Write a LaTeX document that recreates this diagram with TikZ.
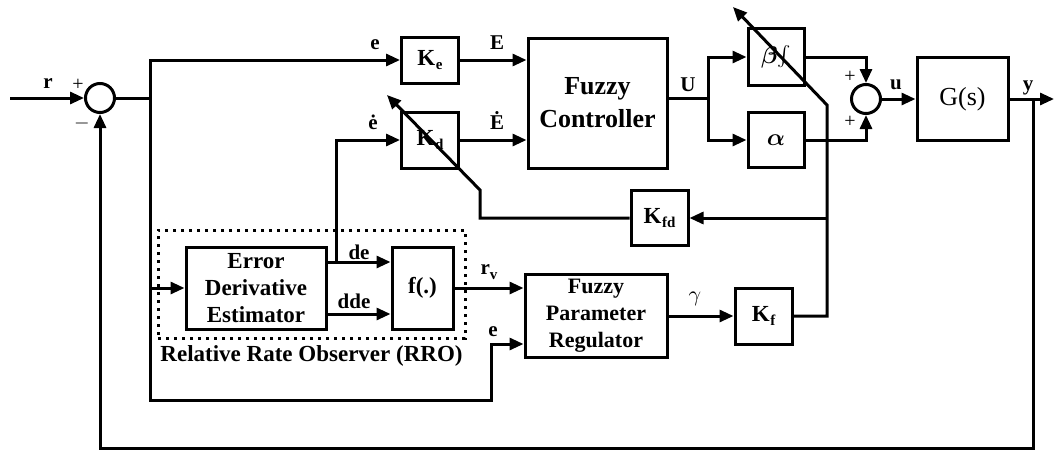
\documentclass[tikz,border=0pt]{standalone}
\usepackage{fontspec}
\setmainfont{Liberation Serif}
\usepackage{tikz}
\usetikzlibrary{arrows.meta, positioning, calc, fit}
\tikzstyle{block} = [rectangle, draw=black, line width=1.5pt, inner sep=0pt, align=center,
    font=\bfseries\fontsize{11.5}{13.5}\selectfont]
\tikzstyle{gain} = [block, minimum width=28.5pt, minimum height=28pt, font=\bfseries\fontsize{11.5}{12}\selectfont]
\tikzstyle{sum} = [circle, draw=black, line width=1.5pt, minimum size=14.5pt, inner sep=0pt]
\tikzstyle{lbl} = [inner sep=0pt, font=\bfseries\fontsize{10.5}{11}\selectfont]
\tikzstyle{sgn} = [inner sep=0pt, font=\fontsize{10}{10}\selectfont]
\tikzstyle{wire} = [line width=1.5pt]
\tikzstyle{arrow} = [line width=1.5pt, -{Triangle[length=7pt,width=6pt]}]
\tikzstyle{rrobox} = [draw=black, line width=1.5pt, dash pattern=on 1.5pt off 2.5pt, inner sep=0pt]
\newcommand{\gainsub}[1]{K\kern0.3pt\raisebox{-0.45ex}{\fontsize{7.5}{7.5}\selectfont #1}}

\begin{document}
\begin{tikzpicture}[x=0.5pt, y=-0.5pt]
  \useasboundingbox (0,0) rectangle (1056,450);

  % forward path
  \node (sum1) [sum] at (100,98) {};
  \node (ke)   [gain, minimum height=23pt] at (430,60) {\gainsub{e}};
  \node (kd)   [gain] at (430,140) {\gainsub{d}};
  \node (fc)   [block, minimum width=69.5pt, minimum height=65pt,
                font=\bfseries\fontsize{13}{16.5}\selectfont] at (597.5,103) {Fuzzy\\Controller};
  \node (bint) [block, minimum width=28pt, minimum height=28.5pt, font=\fontsize{12}{12}\selectfont\boldmath]
                at (776,57) {$\beta\!\int$};
  \node (alph) [block, minimum width=28pt, minimum height=27.5pt, font=\fontsize{12}{12}\selectfont\boldmath]
                at (776,140) {$\alpha$};
  \node (sum2) [sum] at (866,99) {};
  \node (gs)   [block, minimum width=45.5pt, minimum height=41.5pt, font=\fontsize{13}{13}\selectfont]
                at (962.5,99) {G(s)};

  % adaptation path
  \node (ede)  [block, minimum width=70pt, minimum height=41pt] at (256,288) {Error\\Derivative\\Estimator};
  \node (fdot) [block, minimum width=30.5pt, minimum height=41pt] at (422.5,288) {f(.)};
  \node (rro)  [rrobox, fit={(158,230) (465,338)}] {};
  \node (rrolbl) [below=3pt of rro, inner sep=0pt, font=\bfseries\fontsize{11.5}{12}\selectfont]
                {Relative Rate Observer (RRO)};
  \node (fpr)  [block, minimum width=71pt, minimum height=41.5pt,
                font=\bfseries\fontsize{11}{13.5}\selectfont] at (596,316) {Fuzzy\\Parameter\\Regulator};
  \node (kf)   [gain] at (763.5,316) {\gainsub{f}};
  \node (kfd)  [gain, minimum height=27.5pt] at (659.5,218) {\gainsub{fd}};

  \coordinate (rin)    at (10,98);
  \coordinate (esplit) at (150,98);
  \coordinate (usplit) at (708,98);
  \coordinate (ysplit) at (1033,99);
  \coordinate (yout)   at (1054,99);

  % labels
  \node (lr)   [lbl] at (48,84) {r};
  \node (lp1)  [sgn] at (78,85) {+};
  \node (lm1)  [sgn] at (82,123) {$-$};
  \node (le)   [lbl] at (375,45) {e};
  \node (ledot)[lbl] at (373,122) {\.{e}};
  \node (lE)   [lbl] at (497,43) {E};
  \node (lEdot)[lbl] at (497,120) {\.{E}};
  \node (lU)   [lbl] at (688,85) {U};
  \node (lp2)  [sgn] at (850,77) {+};
  \node (lp3)  [sgn] at (850,122) {+};
  \node (lu)   [lbl] at (896,85) {u};
  \node (ly)   [lbl] at (1028,88) {y};
  \node (lde)  [lbl] at (359,252) {de};
  \node (ldde) [lbl] at (354,301) {dde};
  \node (lrv)  [lbl] at (489,272) {r\raisebox{-0.5ex}{\fontsize{7.5}{7.5}\selectfont v}};
  \node (le2)  [lbl] at (493,332) {e};
  \node (lg)   [sgn, font=\fontsize{11}{11}\selectfont] at (695,299) {$\gamma$};

  % main loop
  \draw[arrow] (rin) -- (sum1.west);
  \draw[wire]  (sum1.east) -- (esplit);
  \draw[arrow] (esplit) |- (ke.west);
  \draw[arrow] (esplit) |- (ede.west);
  \draw[arrow] (150,288) -- (150,400) -| (491,344) -- ($(fpr.west)+(0,28)$);
  \draw[arrow] (ke.east) -- (ke.east -| fc.west);
  \draw[arrow] (kd.east) -- (kd.east -| fc.west);
  \draw[wire]  (fc.east |- usplit) -- (usplit);
  \draw[arrow] (usplit) |- (bint.west);
  \draw[arrow] (usplit) |- (alph.west);
  \draw[arrow] (bint.east) -| (sum2.north);
  \draw[arrow] (alph.east) -| (sum2.south);
  \draw[arrow] (sum2.east) -- (gs.west);
  \draw[arrow] (gs.east) -- (yout);
  \draw[arrow] (ysplit) -- (1033,448) -| (sum1.south);

  % observer and regulator
  \draw[arrow] ($(ede.east)+(0,-26)$) -- ($(fdot.west)+(0,-26)$);
  \draw[arrow] ($(ede.east)+(0,26)$) -- ($(fdot.west)+(0,26)$);
  \draw[arrow] (336,262) |- (kd.west);
  \draw[arrow] (fdot.east) -- (fdot.east -| fpr.west);
  \draw[arrow] (fpr.east) -- (kf.west);
  \draw[arrow] (kf.east) -| (827,105) -- (733,7);
  \draw[arrow] (827,218) -- (kfd.east);
  \draw[arrow] (kfd.west) -| (480,190) -- (387,95);
\end{tikzpicture}
\end{document}
